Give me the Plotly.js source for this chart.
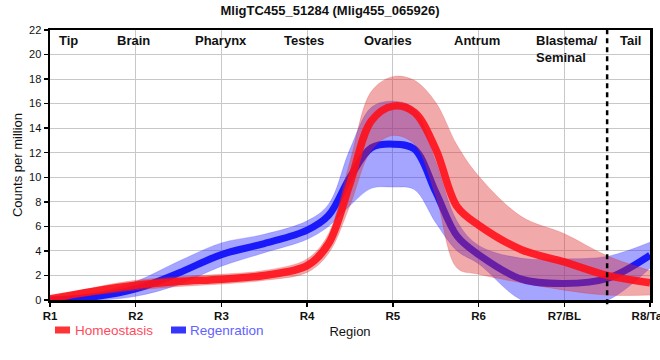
<!DOCTYPE html>
<html>
<head>
<meta charset="utf-8">
<script src="https://cdn.plot.ly/plotly-3.0.1.min.js"></script>
<style>html,body{margin:0;padding:0;background:#fff;}#chart{width:660px;height:360px;}</style>
</head>
<body>
<div id="chart"></div>
<script>
// ---- data ----
const xPos = [1, 1.5, 2, 2.5, 3, 3.5, 4, 4.25, 4.5, 4.75, 5, 5.25, 5.5, 5.75, 6, 6.5, 7, 7.5, 8];
const tickValues = [1, 2, 3, 4, 5, 6, 7, 8];
const tickLabels = ["R1", "R2", "R3", "R4", "R5", "R6", "R7/BL", "R8/Tail"];
const homeostasisMean = [0.1, 0.7, 1.2, 1.5, 1.7, 2.0, 2.8, 4.6, 9.5, 14.6, 15.8, 15.3, 12.3, 7.6, 6.1, 4.1, 3.1, 2.0, 1.4];
const homeostasisSD   = [0.1, 0.3, 0.4, 0.4, 0.4, 0.4, 0.55, 0.8, 1.8, 2.4, 2.4, 2.6, 3.8, 5.0, 4.0, 2.7, 2.3, 1.6, 1.0];
const regenerationMean = [0.0, 0.25, 0.9, 2.2, 3.7, 4.6, 5.7, 6.9, 10.0, 12.4, 12.7, 12.3, 8.8, 5.2, 3.7, 1.7, 1.35, 1.75, 3.65];
const regenerationSD   = [0.1, 0.3, 0.6, 0.95, 0.95, 0.75, 0.75, 0.9, 2.3, 3.3, 3.5, 3.3, 2.5, 1.2, 0.75, 1.7, 2.0, 1.8, 1.05];
const regionNames = ["Tip", "Brain", "Pharynx", "Testes", "Ovaries", "Antrum", "Blastema/<br>Seminal", "Tail"];
const seriesNames = ["Homeostasis", "Regenration"];
const boundaryX = 7.5;

// ---- drawing ----
const FONT = "Liberation Sans, Arial, sans-serif";
const add = (m, s) => m.map((v, i) => v + s[i]);
const sub = (m, s) => m.map((v, i) => v - s[i]);

function band(mean, sd, fillColor, edgeColor) {
  return [
    {x: xPos, y: sub(mean, sd), mode: "lines", line: {shape: "spline", width: 0.6, color: edgeColor},
     hoverinfo: "skip", showlegend: false},
    {x: xPos, y: add(mean, sd), mode: "lines", fill: "tonexty", fillcolor: fillColor,
     line: {shape: "spline", width: 0.6, color: edgeColor}, hoverinfo: "skip", showlegend: false}
  ];
}

const traces = [
  ...band(regenerationMean, regenerationSD, "rgba(40,40,255,0.42)", "rgba(40,40,255,0.35)"),
  {x: xPos, y: regenerationMean, mode: "lines", name: seriesNames[1],
   line: {shape: "spline", width: 7, color: "rgba(10,10,250,0.9)"}, showlegend: false},
  ...band(homeostasisMean, homeostasisSD, "rgba(220,40,40,0.4)", "rgba(220,40,40,0.35)"),
  {x: xPos, y: homeostasisMean, mode: "lines", name: seriesNames[0],
   line: {shape: "spline", width: 7.5, color: "rgba(255,15,25,0.9)"}, showlegend: false}
];

const regionX = [1.22, 1.97, 2.99, 3.96, 4.94, 5.98, 6.65, 7.77];
const annotations = regionNames.map((t, i) => ({
  text: "<b>" + t + "</b>", x: regionX[i], xref: "x", y: 1, yref: "paper",
  xanchor: i === 6 ? "left" : "center", yanchor: "top", yshift: -1, align: "left",
  showarrow: false, font: {family: FONT, size: 13, color: "#111"}
}));
// legend (drawn as text + swatches)
const pxX = p => (p - 50) / 600, pxY = p => (300 - p) / 270;
annotations.push(
  {text: seriesNames[0], x: pxX(73), y: pxY(330.5), xref: "paper", yref: "paper", xanchor: "left", yanchor: "middle",
   showarrow: false, font: {family: FONT, size: 13.5, color: "#ff4a5c"}},
  {text: seriesNames[1], x: pxX(188), y: pxY(330.5), xref: "paper", yref: "paper", xanchor: "left", yanchor: "middle",
   showarrow: false, font: {family: FONT, size: 13.5, color: "#6262ff"}}
);

const shapes = [
  {type: "line", xref: "x", x0: boundaryX, x1: boundaryX, yref: "paper", y0: -0.016, y1: 1,
   line: {color: "#000", width: 2.5, dash: "5px,4px"}},
  {type: "rect", xref: "paper", yref: "paper", x0: pxX(55), x1: pxX(70), y0: pxY(333.5), y1: pxY(326.5),
   fillcolor: "#ff3535", line: {width: 0}},
  {type: "rect", xref: "paper", yref: "paper", x0: pxX(171), x1: pxX(186), y0: pxY(333.5), y1: pxY(326.5),
   fillcolor: "#3535ff", line: {width: 0}}
];

const layout = {
  width: 660, height: 360,
  margin: {l: 50, r: 10, t: 30, b: 60},
  paper_bgcolor: "#fff", plot_bgcolor: "#fff",
  font: {family: FONT, color: "#111"},
  title: {text: "<b>MligTC455_51284 (Mlig455_065926)</b>", x: 0.5, xref: "container",
          y: 1 - 10 / 360, yref: "container", yanchor: "middle", font: {family: FONT, size: 13, color: "#111"}},
  showlegend: false,
  xaxis: {
    range: [1, 8], tickvals: tickValues, ticktext: tickLabels, ticklabeloverflow: "allow",
    tickfont: {family: FONT, size: 11.5, color: "#111", weight: "bold"},
    ticks: "outside", ticklen: 4, tickcolor: "#000", tickwidth: 1.5,
    showgrid: true, gridcolor: "#c8c8c8", gridwidth: 1, zeroline: false,
    showline: true, linecolor: "#000", linewidth: 2.5, mirror: true,
    title: {text: "Region", standoff: 6, font: {family: FONT, size: 13, color: "#111"}}
  },
  yaxis: {
    range: [0, 22], dtick: 2, tick0: 0,
    tickfont: {family: FONT, size: 11, color: "#111"},
    ticks: "outside", ticklen: 4, tickcolor: "#000", tickwidth: 1.5,
    showgrid: true, gridcolor: "#c8c8c8", gridwidth: 1, zeroline: false,
    showline: true, linecolor: "#000", linewidth: 2.5, mirror: true,
    title: {text: "Counts per million", standoff: 4, font: {family: FONT, size: 13, color: "#111"}}
  },
  annotations: annotations,
  shapes: shapes
};

Plotly.newPlot("chart", traces, layout, {displayModeBar: false, responsive: false, staticPlot: true});
</script>
</body>
</html>
